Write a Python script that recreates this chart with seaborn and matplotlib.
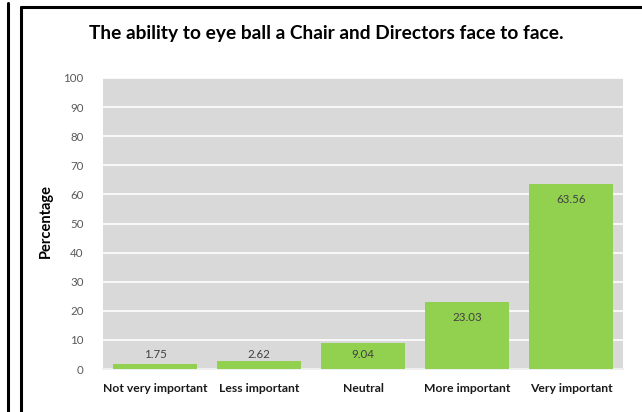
import matplotlib
matplotlib.use("Agg")
import matplotlib.pyplot as plt
import seaborn as sns
import pandas as pd
from matplotlib.lines import Line2D

categories = ["Not very important", "Less important", "Neutral", "More important", "Very important"]
values = [1.75, 2.62, 9.04, 23.03, 63.56]
yticks = [0, 10, 20, 30, 40, 50, 60, 70, 80, 90, 100]

title = "The ability to eye ball a Chair and Directors face to face."
ylabel = "Percentage"

sns.set_theme(style="white")
plt.rcParams['font.family'] = ['Lato', 'DejaVu Sans']

df = pd.DataFrame({"cat": categories, "val": values})

fig = plt.figure(figsize=(6.42, 4.12), dpi=100)
fig.patch.set_facecolor("white")
ax = fig.add_axes([103/642, 1-369/412, (623-103)/642, (369-78)/412])

sns.barplot(data=df, x="cat", y="val", color="#92D050", width=0.81,
            saturation=1, linewidth=0, edgecolor="none", ax=ax, zorder=3)

ax.set_facecolor("#D9D9D9")
ax.set_ylim(0, 100)
ax.set_yticks(yticks)
ax.set_yticklabels([str(t) for t in yticks], fontsize=8.3, color="#595959")
ax.yaxis.grid(True, color="white", linewidth=1.2, zorder=0)
ax.set_axisbelow(True)
for s in ["top", "right", "left"]:
    ax.spines[s].set_visible(False)
ax.spines["bottom"].set_color("#EDEDED")
ax.tick_params(axis="y", length=0, pad=14)
ax.tick_params(axis="x", length=0, pad=10)
for lbl in ax.get_xticklabels():
    lbl.set_fontsize(8.7)
    lbl.set_fontweight("bold")
    lbl.set_color("#1a1a1a")
ax.set_xlabel("")
ax.set_ylabel(ylabel, fontsize=10.5, fontweight="bold", color="black")
ax.yaxis.set_label_coords(-0.097, 0.51)

for i, v in enumerate(values):
    ypos = max(v - 5.2, 4.9)
    ax.text(i, ypos, f"{v:.2f}", ha="center", va="center", fontsize=8.3,
            color="#404040", zorder=4)

fig.text(326/642, 1-33/412, title, ha="center", va="center", fontsize=13.8,
         fontweight="bold", color="black")

# decorative frame lines
fig.add_artist(Line2D([8/642, 8/642], [0, 1-3/412], color="black", linewidth=2.2, transform=fig.transFigure))
fig.add_artist(Line2D([21/642, 21/642], [0, 1-7/412], color="black", linewidth=2.2, transform=fig.transFigure))
fig.add_artist(Line2D([21/642, 1], [1-7/412, 1-7/412], color="black", linewidth=2.2, transform=fig.transFigure))

fig.savefig("out.png", dpi=100)
